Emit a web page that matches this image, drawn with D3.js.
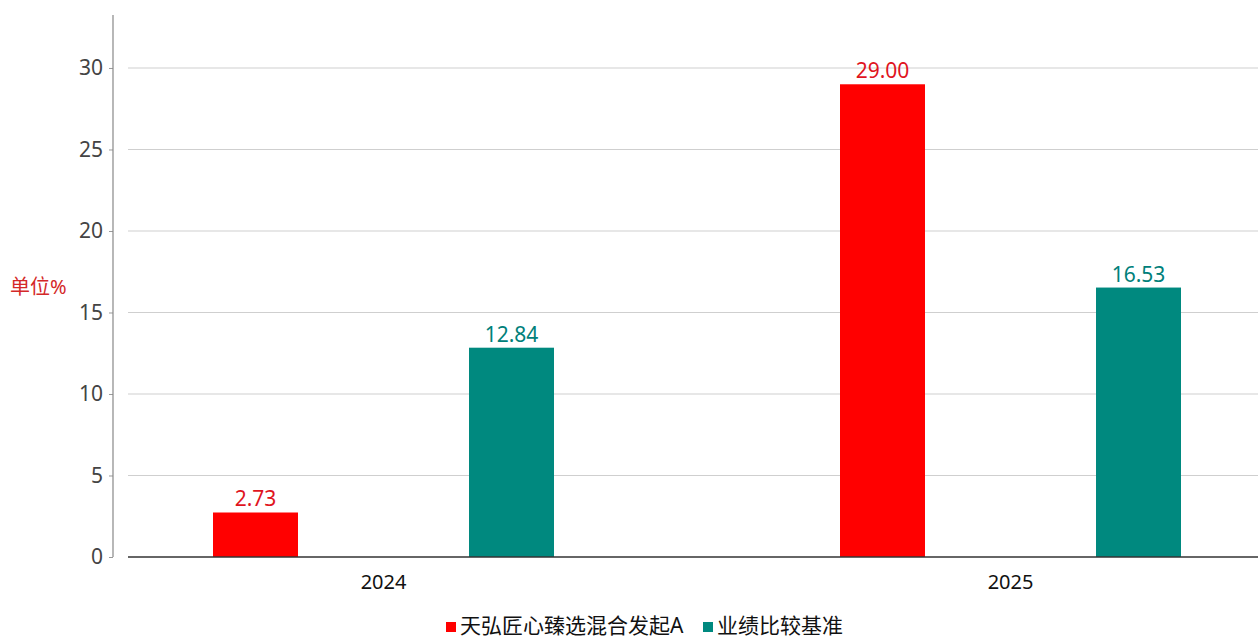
<!DOCTYPE html>
<html><head><meta charset="utf-8">
<script src="https://cdn.jsdelivr.net/npm/d3@7/dist/d3.min.js"></script>
<style>
html,body{margin:0;padding:0;background:#fff;}
text{font-family:"Noto Sans","Noto Sans CJK SC",sans-serif;}
</style></head>
<body><svg id="c" width="1258" height="639"></svg>
<script>
const categories = ["2024", "2025"];
const seriesNames = ["天弘匠心臻选混合发起A", "业绩比较基准"];
const fundValues = [2.73, 29.00];
const benchValues = [12.84, 16.53];
const yTicks = [0, 5, 10, 15, 20, 25, 30];
const colors = ["#ff0000", "#00897f"];

const svg = d3.select("#c");
const yTop = 15, yBase = 557, gridLeft = 128, gridRight = 1258, axisX = 113;

const y = d3.scaleLinear().domain([0, 33.25]).range([yBase, yTop]);
const x0 = d3.scaleBand().domain(categories).range([70, 1324]).padding(0);
const x1 = d3.scaleBand().domain(seriesNames).range([-170.5, 170.5]).paddingInner(0.668).paddingOuter(0);

// gridlines
svg.append("g").selectAll("line").data(yTicks.filter(d => d > 0)).join("line")
  .attr("x1", gridLeft).attr("x2", gridRight)
  .attr("y1", d => y(d)).attr("y2", d => y(d))
  .attr("stroke", "#cfcfcf").attr("stroke-width", 1.2);

// y axis
const yAxis = d3.axisLeft(y).tickValues(yTicks).tickSize(4).tickPadding(6);
const gy = svg.append("g").attr("transform", `translate(${axisX},0)`).call(yAxis);
gy.select(".domain").remove();
gy.selectAll(".tick line").attr("stroke", "#999");
gy.selectAll(".tick text").attr("fill", "#444").attr("font-size", 21);
svg.append("line").attr("x1", axisX).attr("x2", axisX).attr("y1", yTop).attr("y2", yBase)
  .attr("stroke", "#888").attr("stroke-width", 1.2);

// bars
const data = categories.map((c, i) => ({cat: c, vals: [fundValues[i], benchValues[i]]}));
const groups = svg.append("g").selectAll("g").data(data).join("g")
  .attr("transform", d => `translate(${x0(d.cat) + x0.bandwidth() / 2},0)`);
groups.selectAll("rect").data(d => d.vals.map((v, j) => ({v, s: seriesNames[j], j}))).join("rect")
  .attr("x", d => x1(d.s)).attr("width", x1.bandwidth())
  .attr("y", d => y(d.v)).attr("height", d => yBase - y(d.v))
  .attr("fill", d => colors[d.j]);
groups.selectAll("text").data(d => d.vals.map((v, j) => ({v, s: seriesNames[j], j}))).join("text")
  .attr("x", d => x1(d.s) + x1.bandwidth() / 2).attr("y", d => y(d.v) - 6)
  .attr("text-anchor", "middle").attr("font-size", 21)
  .attr("fill", d => d.j === 0 ? "#e0141e" : "#00807a")
  .text(d => d.v.toFixed(2));

// x axis baseline
svg.append("line").attr("x1", gridLeft).attr("x2", gridRight).attr("y1", yBase).attr("y2", yBase)
  .attr("stroke", "#333").attr("stroke-width", 1.5);
const xAxis = d3.axisBottom(x0).tickSize(0).tickPadding(18);
const gx = svg.append("g").attr("transform", `translate(0,${yBase})`).call(xAxis);
gx.select(".domain").remove();
gx.selectAll(".tick text").attr("fill", "#111").attr("font-size", 20);

// unit label
svg.append("text").attr("x", 10).attr("y", 294).attr("fill", "#d42828").attr("font-size", 20).text("单位%");

// legend
const legend = svg.append("g");
const legX = [446, 703];
seriesNames.forEach((s, i) => {
  legend.append("rect").attr("x", legX[i]).attr("y", 622).attr("width", 10).attr("height", 10).attr("fill", colors[i]);
  legend.append("text").attr("x", legX[i] + 14).attr("y", 633).attr("font-size", 21).attr("fill", "#111").text(s);
});
</script></body></html>
